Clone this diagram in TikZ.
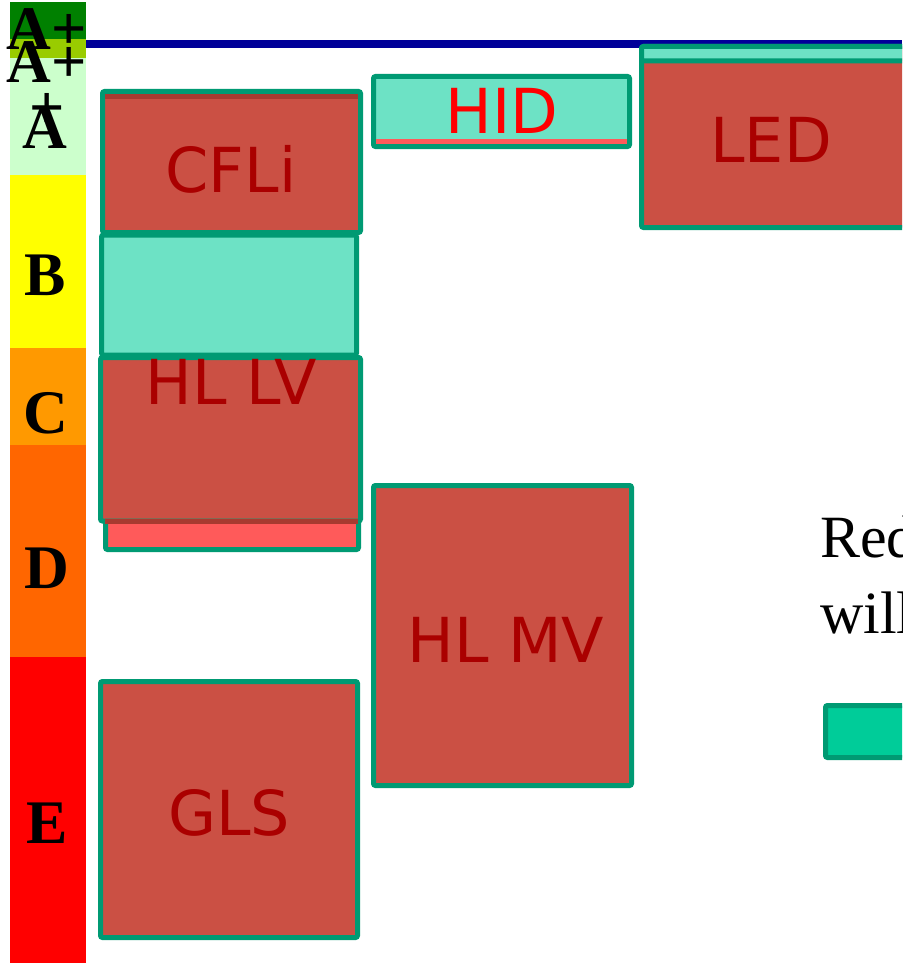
\documentclass[tikz,border=0pt]{standalone}
\usepackage{fontspec}
\setmainfont{Liberation Serif}
\newfontfamily\lampfont{DejaVu Sans}
\definecolor{class app}{HTML}{008000}
\definecolor{class ap}{HTML}{99CC00}
\definecolor{class a}{HTML}{CCFFCC}
\definecolor{class b}{HTML}{FFFF00}
\definecolor{class c}{HTML}{FF9900}
\definecolor{class d}{HTML}{FF6600}
\definecolor{class e}{HTML}{FF0000}
\definecolor{scale line}{HTML}{000099}
\definecolor{range border}{HTML}{009A73}
\definecolor{range red}{HTML}{CB5044}
\definecolor{range dark}{HTML}{A83A30}
\definecolor{range light}{HTML}{FF5A5A}
\definecolor{range teal}{HTML}{6DE2C5}
\definecolor{legend teal}{HTML}{00CC99}
\definecolor{lamp text}{HTML}{AA0000}
\tikzset{
    x={1pt},
    y={-1pt},
    class band/.style={
        fill={#1},
        draw=none,
    },
    class label/.style={
        font={\fontsize{62}{62}\selectfont\bfseries},
        anchor=base,
        inner sep=0pt,
    },
    lamp range/.style={
        fill={#1},
        draw=range border,
        line width={5pt},
        rounded corners={2pt},
    },
    lamp strip/.style={
        draw={#1},
        line width={5pt},
    },
    lamp label/.style={
        font={\lampfont\fontsize{62}{62}\selectfont},
        text={#1},
        anchor=base,
        inner sep=0pt,
    },
    lamp label/.default={lamp text},
    legend text/.style={
        font={\fontsize{60}{60}\selectfont},
        anchor=base west,
        inner sep=0pt,
    },
}

\begin{document}
\begin{tikzpicture}
\useasboundingbox (0,0) rectangle (902,963);
\clip (0,0) rectangle (902,963);
% classes
\path[class band={class app}] (10,2) rectangle (86,39);
\path[class band={class ap}] (10,39) rectangle (86,58);
\path[class band={class a}] (10,58) rectangle (86,175);
\path[class band={class b}] (10,175) rectangle (86,348);
\path[class band={class c}] (10,348) rectangle (86,445);
\path[class band={class d}] (10,445) rectangle (86,657);
\path[class band={class e}] (10,657) rectangle (86,963);
\node[class label] (app) at (47,50) {A+};
\node[class label] (ap) at (47,83) {A+};
\node[class label] (a) at (45,148) {A};
\node[class label, anchor=center] (a plus) at (47,111) {+};
\node[class label] (b) at (45,295) {B};
\node[class label] (c) at (46,433) {C};
\node[class label] (d) at (47,588) {D};
\node[class label] (e) at (47,843) {E};
\path[draw=scale line, line width={8pt}] (86,44) -- (902,44);
% ranges
\path[lamp range={range red}] (641.5,46.5) rectangle (910,227.5);
\path[lamp range={range teal}] (641.5,46.5) rectangle (910,61);
\node[lamp label] (led) at (771,162) {LED};
\path[lamp range={range teal}] (373.5,76.5) rectangle (629.5,146.5);
\path[lamp strip={range light}] (376,141) -- (627,141);
\node[lamp label={red}] (hid) at (502,133) {HID};
\path[lamp range={range red}] (102.5,91.5) rectangle (360.5,232.5);
\path[lamp strip={range dark}] (105,97) -- (358,97);
\node[lamp label] (cfli) at (231,192) {CFLi};
\path[lamp range={range light}] (105.5,357.5) rectangle (358.5,549.5);
\path[lamp range={range red}] (100.5,357.5) rectangle (360.5,521);
\path[lamp strip={range dark}] (105,521) -- (358,521);
\node[lamp label] (hl lv) at (231,404) {HL LV};
\path[lamp range={range teal}] (101.5,235) rectangle (356.5,355);
\path[lamp range={range red}] (373.5,485.5) rectangle (631.5,785.5);
\node[lamp label] (hl mv) at (506,662) {HL MV};
\path[lamp range={range red}] (100.5,681.5) rectangle (357.5,937.5);
\node[lamp label] (gls) at (229,835) {GLS};
% legend
\node[legend text] (legend red) at (820,557) {Red};
\node[legend text] (legend will) at (820,633) {will};
\path[lamp range={legend teal}] (825.5,705.5) rectangle (920,757.5);
\end{tikzpicture}
\end{document}
